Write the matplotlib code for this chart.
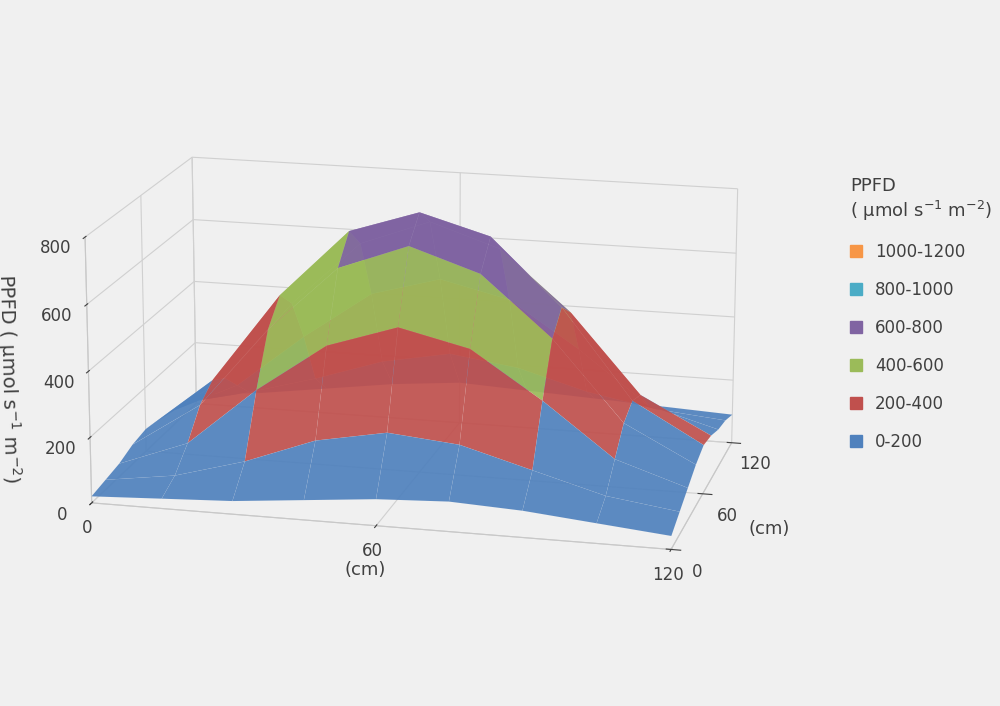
import numpy as np
import matplotlib
matplotlib.use("Agg")
import matplotlib.pyplot as plt
from matplotlib.patches import Patch

x_cm = [0, 15, 30, 45, 60, 75, 90, 105, 120]
y_cm = [0, 15, 30, 45, 60, 75, 90, 105, 120]
ppfd = [
    [20, 30, 40, 60, 80, 90, 80, 60, 40],
    [30, 60, 120, 200, 240, 220, 160, 100, 70],
    [40, 120, 300, 450, 520, 470, 330, 170, 100],
    [60, 200, 450, 650, 730, 660, 480, 240, 130],
    [70, 240, 520, 730, 800, 740, 540, 270, 150],
    [60, 210, 460, 660, 740, 670, 490, 250, 140],
    [50, 150, 320, 470, 530, 480, 340, 180, 120],
    [40, 90, 150, 220, 260, 230, 170, 130, 110],
    [30, 50, 80, 110, 130, 120, 110, 100, 90],
]
bands = ["1000-1200", "800-1000", "600-800", "400-600", "200-400", "0-200"]
band_colors = ["#F79646", "#4BACC6", "#8064A2", "#9BBB59", "#C0504D", "#4F81BD"]

X, Y = np.meshgrid(x_cm, y_cm)
Z = np.array(ppfd, dtype=float)
zc = (Z[:-1, :-1] + Z[1:, :-1] + Z[:-1, 1:] + Z[1:, 1:]) / 4
low_first = band_colors[::-1]
fcol = np.zeros(zc.shape + (4,))
for i in range(zc.shape[0]):
    for j in range(zc.shape[1]):
        fcol[i, j] = matplotlib.colors.to_rgba(low_first[min(int(zc[i, j] // 200), 5)], 0.92)

fig = plt.figure(figsize=(10, 7.06), dpi=100, facecolor="#f0f0f0")
ax = fig.add_axes([0.0, 0.0, 0.82, 1.0], projection="3d")
ax.set_facecolor("#f0f0f0")
ax.plot_surface(X, Y, Z, facecolors=fcol, shade=False, linewidth=0.3,
                edgecolor=(1, 1, 1, 0.08), antialiased=True)
ax.view_init(elev=16, azim=-76)
ax.set_box_aspect((1.5, 0.9, 0.7))
ax.set_xlim(0, 120); ax.set_ylim(0, 120); ax.set_zlim(0, 800)
ax.set_xticks([0, 60, 120]); ax.set_yticks([0, 60, 120]); ax.set_zticks([0, 200, 400, 600, 800])
for a in (ax.xaxis, ax.yaxis, ax.zaxis):
    a.pane.fill = False
    a.pane.set_edgecolor("#f0f0f0")
    a._axinfo["grid"]["color"] = "#d0d0d0"
    a._axinfo["grid"]["linewidth"] = 0.8
    a.line.set_color("#c8c8c8")
ax.zaxis.set_ticks_position("lower")
ax.zaxis.set_label_position("lower")
ax.tick_params(colors="#404040", labelsize=12)
ax.set_xlabel("(cm)", fontsize=13, color="#404040", labelpad=10)
ax.set_ylabel("(cm)", fontsize=13, color="#404040", labelpad=10)
ax.set_zlabel("PPFD ( µmol s$^{-1}$ m$^{-2}$)", fontsize=14, color="#404040", labelpad=10)

handles = [Patch(color=c, label=b) for b, c in zip(bands, band_colors)]
leg = fig.legend(handles=handles, loc="upper left", bbox_to_anchor=(0.835, 0.77),
                 frameon=False, fontsize=12, handlelength=0.7, handleheight=0.7,
                 labelspacing=1.2, title="PPFD\n( µmol s$^{-1}$ m$^{-2}$)", title_fontsize=13)
leg._legend_box.align = "left"
for t in leg.get_texts():
    t.set_color("#404040")
leg.get_title().set_color("#404040")
fig.savefig("out.png", dpi=100, facecolor=fig.get_facecolor())
